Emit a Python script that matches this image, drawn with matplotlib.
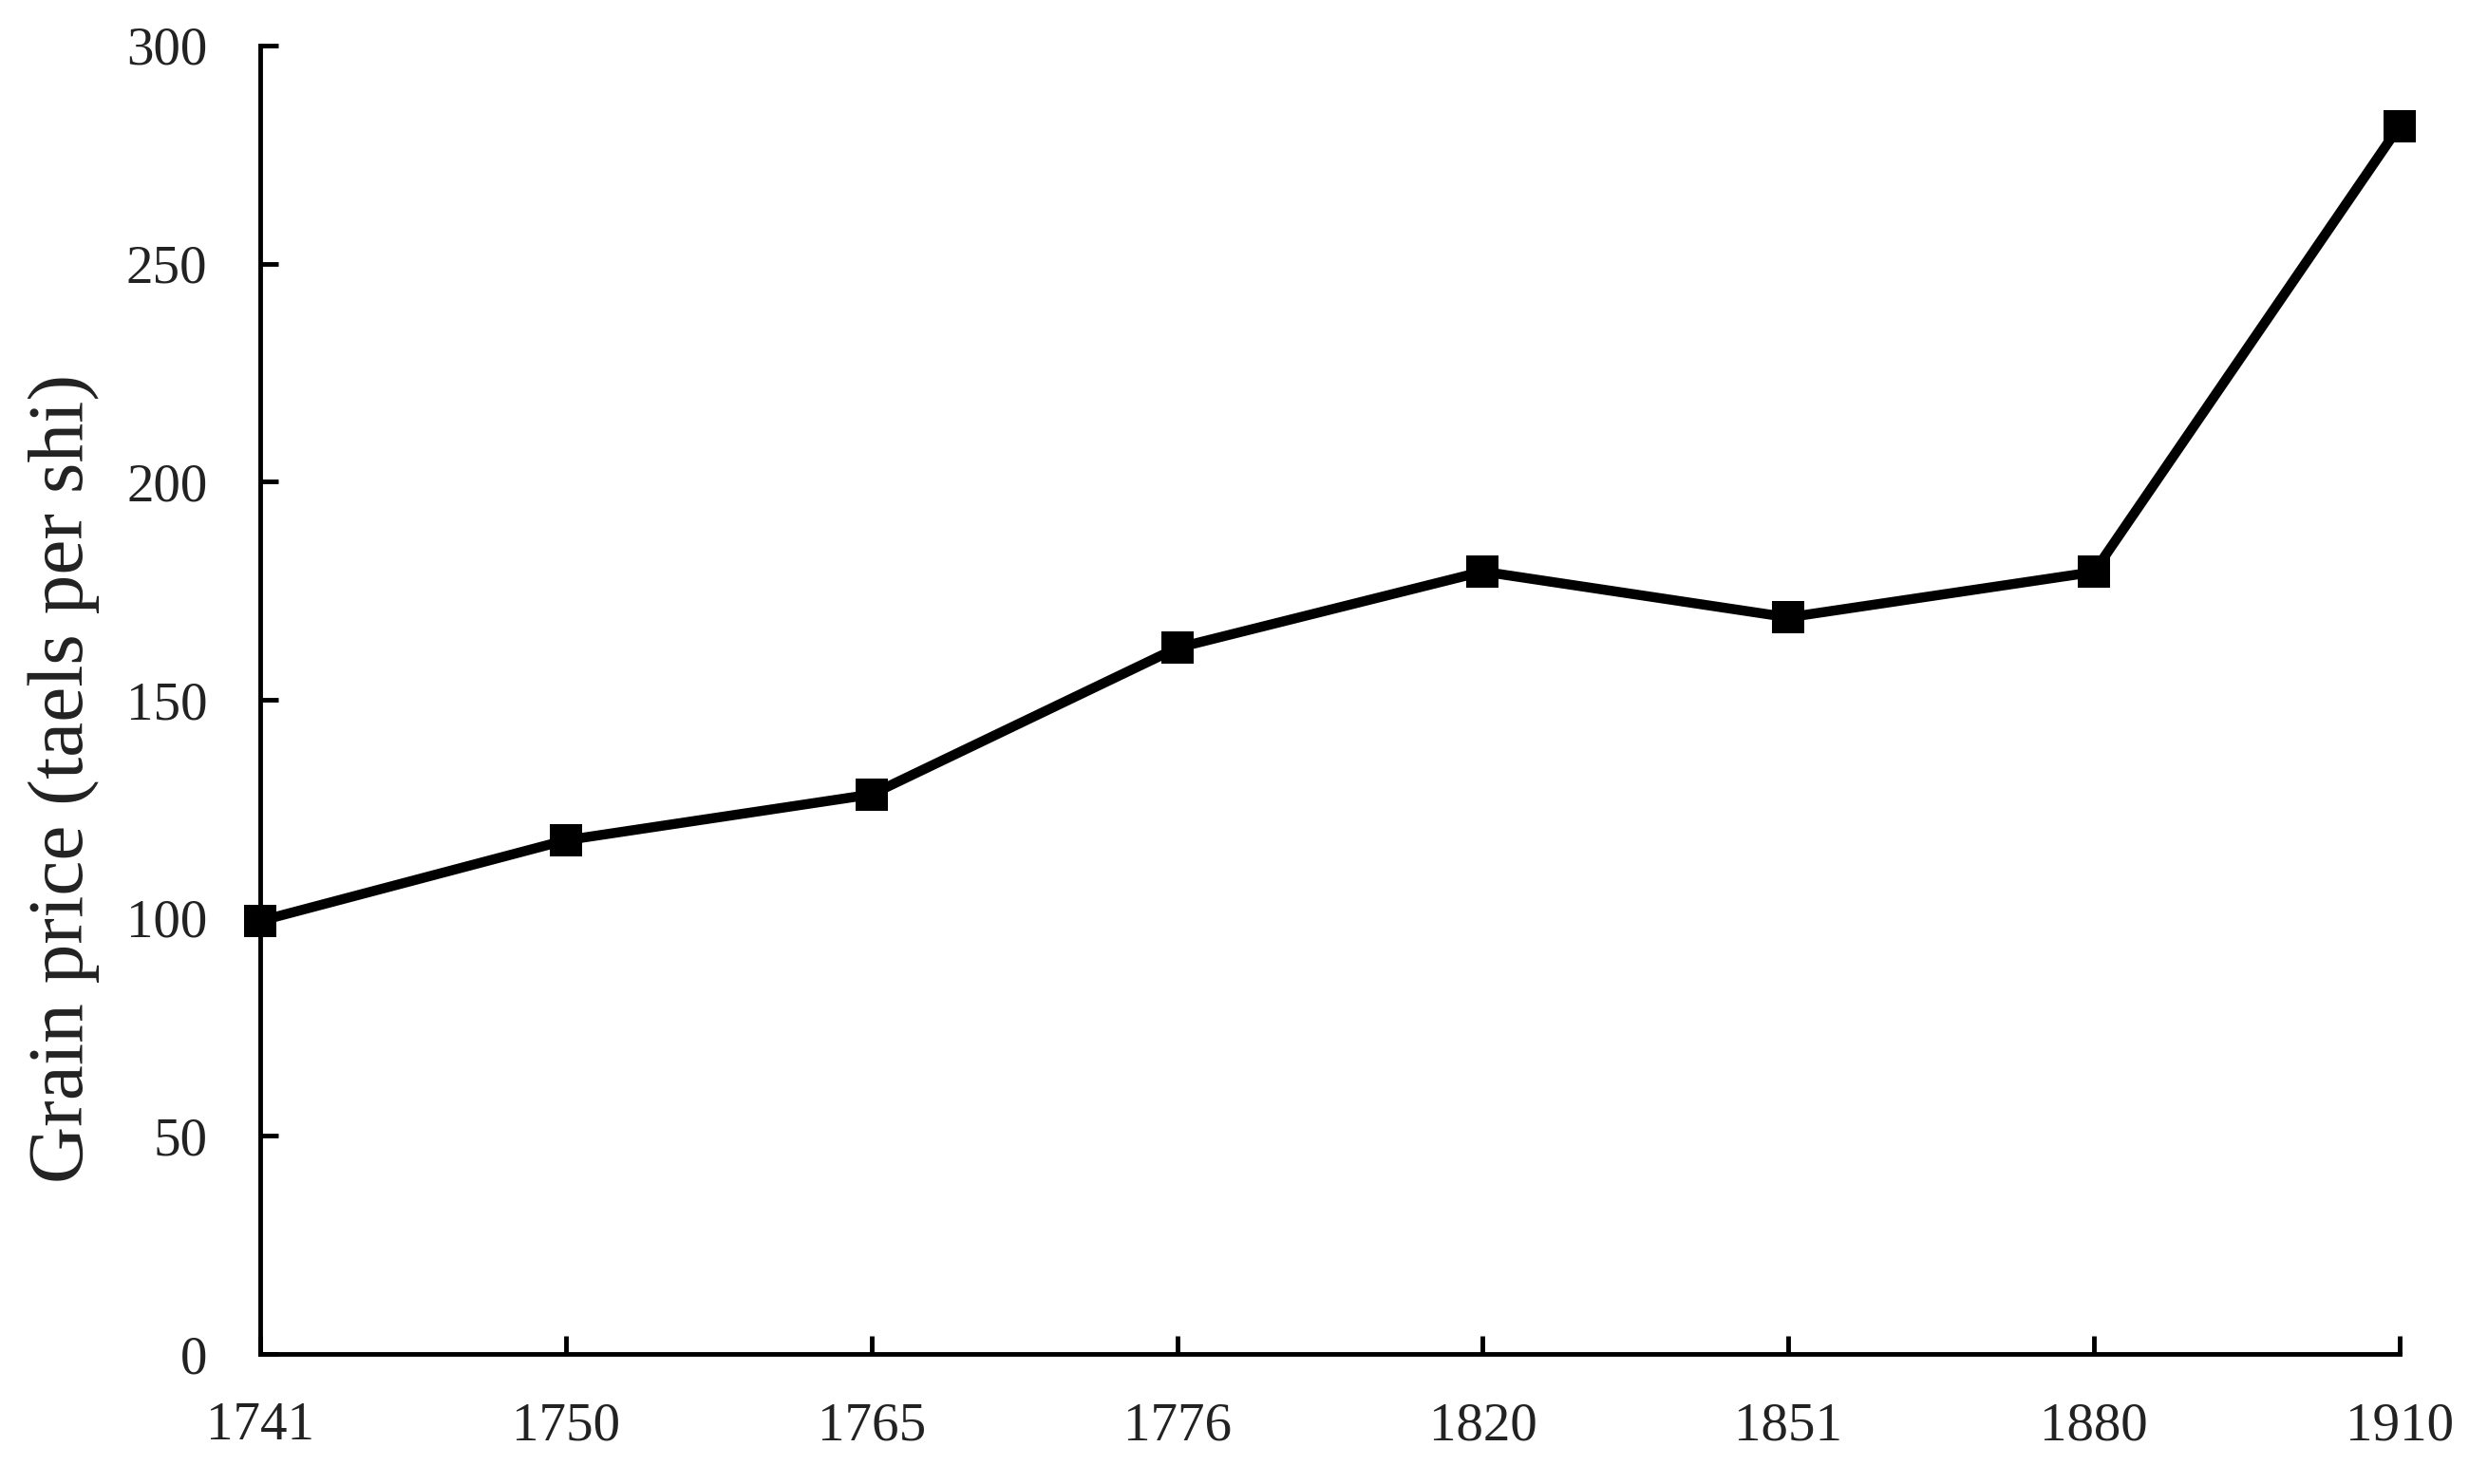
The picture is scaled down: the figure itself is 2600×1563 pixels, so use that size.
import matplotlib
matplotlib.use("Agg")
import matplotlib.pyplot as plt

years = ["1741", "1750", "1765", "1776", "1820", "1851", "1880", "1910"]
prices = [99.3, 117.8, 128.3, 161.9, 179.4, 168.9, 179.3, 281.6]
y_ticks = [0, 50, 100, 150, 200, 250, 300]

plt.rcParams['font.family'] = ['Liberation Serif', 'DejaVu Serif']

fig = plt.figure(figsize=(26, 15.63), dpi=100)
ax = fig.add_axes([0.1054, 0.0876, 0.8665, 0.8817])

x = list(range(len(years)))
ax.plot(x, prices, color='black', linewidth=7.5, marker='s', markersize=24,
        markeredgewidth=0, clip_on=False, zorder=3)

ax.set_xlim(0, len(years) - 1)
ax.set_ylim(0, 300)
ax.set_xticks(x)
ax.set_xticklabels(years)
ax.set_yticks(y_ticks)
ax.set_yticklabels([str(t) for t in y_ticks])

for side in ['top', 'right']:
    ax.spines[side].set_visible(False)
for side in ['left', 'bottom']:
    ax.spines[side].set_linewidth(3.5)
    ax.spines[side].set_color('black')

ax.tick_params(axis='both', direction='in', length=14, width=3.5, colors='black',
               labelsize=41, labelcolor='#222222')
ax.tick_params(axis='y', pad=40)
ax.tick_params(axis='x', pad=36)

ax.set_ylabel("Grain price (taels per shi)", fontsize=60, color='#222222', labelpad=20)
ax.yaxis.label.set_y(0.44)

fig.savefig("out.png", dpi=100, facecolor='white')
